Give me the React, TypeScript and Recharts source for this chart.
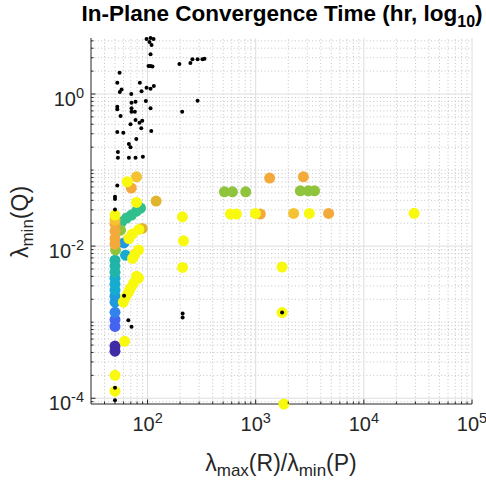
import React from 'react';
import { ScatterChart, Scatter, XAxis, YAxis, ReferenceLine } from 'recharts';

const FONT = '"Liberation Sans", Arial, Helvetica, sans-serif';
const AXIS = '#262626';

// axis setup
const xMajor = [100, 1000, 10000, 100000];
const yMajor = [1e-4, 1e-2, 1];
const xDomain: [number, number] = [30, 100000];
const yDomain: [number, number] = [8.4e-5, 5.45];

// colored markers, grouped by colour (convergence time class)
const purplePts = [{ x: 50, y: 0.000486 }, { x: 50, y: 0.000415 }];
const blue2Pts = [{ x: 50, y: 0.00108 }, { x: 50, y: 0.00088 }];
const bluePts = [{ x: 50, y: 0.00135 }];
const cyanBluePts = [{ x: 50, y: 0.0022 }, { x: 50, y: 0.00183 }, { x: 60.4, y: 0.011 }];
const cyanPts = [{ x: 50, y: 0.00379 }, { x: 50, y: 0.00316 }, { x: 50, y: 0.00264 }, { x: 62.6, y: 0.0076 }];
const tealPts = [{ x: 50, y: 0.00654 }, { x: 50, y: 0.00546 }, { x: 50, y: 0.00455 }];
const tealGreenPts = [
  { x: 86.1, y: 0.0316 }, { x: 79.1, y: 0.0289 }, { x: 71.1, y: 0.0256 }, { x: 63.9, y: 0.0234 }, { x: 57.5, y: 0.0207 },
];
const greenPts = [
  { x: 56.3, y: 0.0162 }, { x: 50.6, y: 0.0089 }, { x: 514, y: 0.0518 }, { x: 609, y: 0.0518 }, { x: 809, y: 0.0518 },
  { x: 2587, y: 0.0534 }, { x: 3066, y: 0.0534 }, { x: 3500, y: 0.0534 },
];
const orangePts = [
  { x: 70.7, y: 0.058 }, { x: 1346, y: 0.0785 }, { x: 2760, y: 0.0816 }, { x: 1104, y: 0.0264 }, { x: 4720, y: 0.0269 },
  { x: 50, y: 0.0195 }, { x: 50, y: 0.0157 }, { x: 50, y: 0.0126 }, { x: 50, y: 0.0106 },
];
const darkGoldPts = [{ x: 120, y: 0.0391 }, { x: 89.3, y: 0.0171 }];
const goldPts = [{ x: 79.1, y: 0.0816 }, { x: 2240, y: 0.0269 }, { x: 50, y: 0.022 }];
const yellowPts = [
  { x: 50, y: 2.0e-4 }, { x: 50, y: 1.24e-4 }, { x: 61.3, y: 5.6e-4 },
  { x: 79.1, y: 0.00403 }, { x: 82.6, y: 0.00379 }, { x: 74.2, y: 0.00326 }, { x: 69.6, y: 0.0028 },
  { x: 66.8, y: 0.00248 }, { x: 62.6, y: 0.00213 }, { x: 59.7, y: 0.00183 },
  { x: 82.6, y: 0.0089 }, { x: 76.3, y: 0.0078 }, { x: 72.7, y: 0.0069 },
  { x: 72.2, y: 0.0144 }, { x: 67.2, y: 0.0126 }, { x: 83.1, y: 0.0166 },
  { x: 79.1, y: 0.0376 }, { x: 64.9, y: 0.0702 }, { x: 50, y: 0.0256 },
  { x: 210, y: 0.0243 }, { x: 215, y: 0.01175 }, { x: 211, y: 0.00525 },
  { x: 584, y: 0.0264 }, { x: 663, y: 0.0264 }, { x: 994, y: 0.0269 }, { x: 3134, y: 0.0269 }, { x: 29150, y: 0.027 },
  { x: 1754, y: 0.0053 }, { x: 1754, y: 0.00134 }, { x: 1820, y: 8.4e-5 },
];

// small black markers
const blackPts = [
  { x: 97.9, y: 5.29 }, { x: 106.6, y: 5.45 }, { x: 113.6, y: 5.29 }, { x: 104.3, y: 4.83 }, { x: 108.9, y: 4.41 },
  { x: 106.6, y: 3.33 }, { x: 102, y: 2.34 }, { x: 106.6, y: 2.34 }, { x: 111, y: 2.3 },
  { x: 55.1, y: 1.91 }, { x: 52.5, y: 1.41 }, { x: 84.9, y: 1.41 }, { x: 57.5, y: 1.15 }, { x: 55.4, y: 1.06 },
  { x: 70.7, y: 1.0 }, { x: 88, y: 1.09 }, { x: 97.9, y: 1.21 }, { x: 106.6, y: 1.17 }, { x: 114.3, y: 1.27 },
  { x: 197, y: 2.48 }, { x: 249, y: 2.56 }, { x: 260, y: 2.86 }, { x: 290, y: 2.86 }, { x: 322, y: 2.86 }, { x: 336, y: 2.91 },
  { x: 290, y: 0.816 }, { x: 209, y: 0.585 }, { x: 96.5, y: 0.809 }, { x: 106.6, y: 0.648 },
  { x: 77.4, y: 0.792 }, { x: 71.1, y: 0.768 }, { x: 71.1, y: 0.648 }, { x: 71.1, y: 0.585 },
  { x: 52.5, y: 0.681 }, { x: 52.5, y: 0.629 }, { x: 56.3, y: 0.514 }, { x: 76.3, y: 0.585 },
  { x: 77.4, y: 0.455 }, { x: 84.3, y: 0.419 }, { x: 89.3, y: 0.445 }, { x: 69.6, y: 0.399 },
  { x: 87.5, y: 0.354 }, { x: 108.2, y: 0.326 }, { x: 52.5, y: 0.316 }, { x: 59.7, y: 0.31 },
  { x: 78.7, y: 0.256 }, { x: 67.2, y: 0.22 }, { x: 69.6, y: 0.199 }, { x: 53.2, y: 0.173 },
  { x: 53.2, y: 0.145 }, { x: 67.2, y: 0.145 }, { x: 77.4, y: 0.145 }, { x: 90.5, y: 0.1496 },
  { x: 52.5, y: 0.0625 }, { x: 50, y: 0.0445 }, { x: 50, y: 0.0415 }, { x: 50, y: 0.0302 },
  { x: 60.7, y: 0.00222 }, { x: 66.4, y: 0.00106 }, { x: 71.1, y: 0.000868 },
  { x: 211, y: 0.0013 }, { x: 211, y: 0.00115 }, { x: 1754, y: 0.00134 },
  { x: 50, y: 0.000137 }, { x: 50, y: 0.0000941 },
];

function logMinors(lo: number, hi: number, majors: number[]) {
  const out: number[] = [];
  for (let e = Math.floor(Math.log10(lo)); e <= Math.ceil(Math.log10(hi)); e++) {
    for (let m = 1; m < 10; m++) {
      const v = parseFloat((m * Math.pow(10, e)).toPrecision(6));
      if (v > lo * 1.0001 && v < hi * 0.9999 && !majors.some((k) => Math.abs(k - v) / k < 1e-6)) out.push(v);
    }
  }
  return out;
}

const xMinor = logMinors(xDomain[0], xDomain[1], xMajor);
const yMinor = logMinors(yDomain[0], yDomain[1], yMajor);
const xTicks = [...xMinor, ...xMajor].sort((a, b) => a - b);
const yTicks = [...yMinor, ...yMajor].sort((a, b) => a - b);

const isMajor = (v: number, majors: number[]) => majors.some((k) => Math.abs(k - v) / k < 1e-6);

const XTick = (props: any) => {
  const { x, y, payload } = props;
  const v = payload.value;
  const major = isMajor(v, xMajor);
  const e = Math.round(Math.log10(v));
  return (
    <g>
      <line x1={x} x2={x} y1={y} y2={y - (major ? 4.5 : 2.5)} stroke={AXIS} strokeWidth={1} />
      {major && (
        <text x={x} y={y + 27} textAnchor="middle" fill={AXIS} fontSize={20} fontFamily={FONT}>
          10<tspan dy={-8} fontSize={14.5}>{e}</tspan>
        </text>
      )}
    </g>
  );
};

const YTick = (props: any) => {
  const { x, y, payload } = props;
  const v = payload.value;
  const major = isMajor(v, yMajor);
  const e = Math.round(Math.log10(v));
  return (
    <g>
      <line x1={x} x2={x + (major ? 4.5 : 2.5)} y1={y} y2={y} stroke={AXIS} strokeWidth={1} />
      {major && (
        <text x={x - 7} y={y + 12} textAnchor="end" fill={AXIS} fontSize={20} fontFamily={FONT}>
          10<tspan dy={-8} fontSize={14.5}>{e}</tspan>
        </text>
      )}
    </g>
  );
};

const dot = (r: number, fill: string) => (p: any) =>
  p.cx == null || p.cy == null ? <g /> : <circle cx={p.cx} cy={p.cy} r={r} fill={fill} />;

const colored: { data: { x: number; y: number }[]; color: string }[] = [
  { data: purplePts, color: '#3e2ba6' },
  { data: blue2Pts, color: '#4464ef' },
  { data: bluePts, color: '#3383ee' },
  { data: cyanBluePts, color: '#1f9ade' },
  { data: cyanPts, color: '#15acd0' },
  { data: tealPts, color: '#21b5a9' },
  { data: tealGreenPts, color: '#30bf8d' },
  { data: greenPts, color: '#8fc43d' },
  { data: orangePts, color: '#f4aa3b' },
  { data: darkGoldPts, color: '#e0b52c' },
  { data: goldPts, color: '#f5c232' },
  { data: yellowPts, color: '#f9f90f' },
];

export default function App() {
  return (
    <div style={{ position: 'absolute', left: 0, top: 0, width: 486, height: 485, background: '#fff' }}>
      <ScatterChart width={486} height={485} margin={{ top: 38, right: 14, left: 0, bottom: 0 }}>
        <XAxis
          type="number"
          dataKey="x"
          scale="log"
          domain={xDomain}
          ticks={xTicks}
          interval={0}
          height={81}
          tickSize={0}
          tickMargin={0}
          tickLine={false}
          tick={<XTick />}
          axisLine={{ stroke: AXIS, strokeWidth: 1 }}
        />
        <YAxis
          type="number"
          dataKey="y"
          scale="log"
          domain={yDomain}
          ticks={yTicks}
          interval={0}
          width={91}
          tickSize={0}
          tickMargin={0}
          tickLine={false}
          tick={<YTick />}
          axisLine={{ stroke: AXIS, strokeWidth: 1 }}
        />
        {xMinor.map((v) => (
          <ReferenceLine key={'xm' + v} x={v} stroke="#c4c4c4" strokeDasharray="1 2.4" ifOverflow="visible" />
        ))}
        {yMinor.map((v) => (
          <ReferenceLine key={'ym' + v} y={v} stroke="#c4c4c4" strokeDasharray="1 2.4" ifOverflow="visible" />
        ))}
        {xMajor.map((v) => (
          <ReferenceLine key={'xM' + v} x={v} stroke="#dedede" ifOverflow="visible" />
        ))}
        {yMajor.map((v) => (
          <ReferenceLine key={'yM' + v} y={v} stroke="#dedede" ifOverflow="visible" />
        ))}
        {colored.map((g, i) => (
          <Scatter key={'c' + i} data={g.data} isAnimationActive={false} shape={dot(5.5, g.color)} />
        ))}
        <Scatter data={blackPts} isAnimationActive={false} shape={dot(2, '#000')} />
      </ScatterChart>
      <svg width={486} height={485} style={{ position: 'absolute', left: 0, top: 0, pointerEvents: 'none' }}>
        <text x={282} y={21} textAnchor="middle" fontWeight="bold" fontSize={22.5} fontFamily={FONT} fill="#000">
          In-Plane Convergence Time (hr, log<tspan fontSize={16} dy={6}>10</tspan>
          <tspan dy={-6}>)</tspan>
        </text>
        <text x={281} y={471} textAnchor="middle" fontSize={23} fontFamily={FONT} fill={AXIS}>
          λ<tspan fontSize={17} dy={5}>max</tspan>
          <tspan dy={-5}>(R)/λ</tspan>
          <tspan fontSize={17} dy={5}>min</tspan>
          <tspan dy={-5}>(P)</tspan>
        </text>
        <text transform="translate(28,222) rotate(-90)" textAnchor="middle" fontSize={23} fontFamily={FONT} fill={AXIS}>
          λ<tspan fontSize={17} dy={5}>min</tspan>
          <tspan dy={-5}>(Q)</tspan>
        </text>
      </svg>
    </div>
  );
}
